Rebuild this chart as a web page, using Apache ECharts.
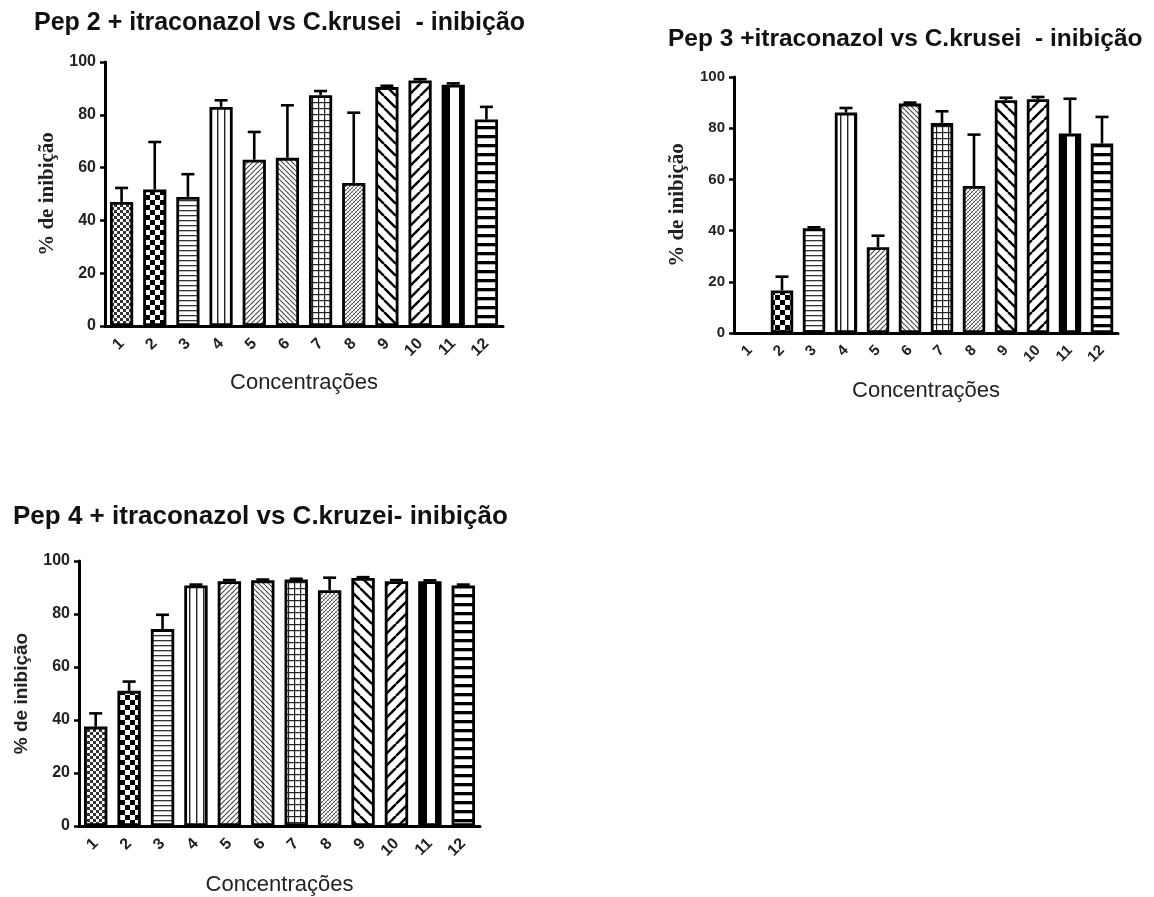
<!DOCTYPE html>
<html>
<head>
<meta charset="utf-8">
<script src="https://cdn.jsdelivr.net/npm/echarts@6.0.0/dist/echarts.min.js"></script>
<style>
  html, body { margin: 0; padding: 0; background: #fff; }
  #chart { width: 1154px; height: 897px; }
</style>
</head>
<body>
<div id="chart"></div>
<script>
// Concentration groups on the x axis
const categories = ['1', '2', '3', '4', '5', '6', '7', '8', '9', '10', '11', '12'];
const yTicks = [0, 20, 40, 60, 80, 100];

// Pep 2 + itraconazol vs C. krusei (% inhibition, mean and SD)
const pep2Mean = [47.0, 51.7, 48.9, 83.0, 63.0, 63.7, 87.4, 54.2, 90.5, 93.0, 91.4, 78.2];
const pep2Sd   = [5.3, 18.0, 8.6, 2.5, 10.5, 19.9, 1.6, 26.6, 0.5, 0.5, 0.5, 4.8];

// Pep 3 + itraconazol vs C. krusei
const pep3Mean = [0, 16.6, 40.9, 86.1, 33.5, 89.6, 82.0, 57.4, 90.9, 91.3, 77.9, 74.0];
const pep3Sd   = [0, 5.4, 0.4, 1.8, 4.5, 0.4, 4.6, 20.1, 1.0, 0.9, 13.6, 10.4];

// Pep 4 + itraconazol vs C. kruzei
const pep4Mean = [37.5, 51.0, 74.3, 90.8, 92.4, 92.7, 93.0, 89.0, 93.6, 92.4, 92.4, 90.8];
const pep4Sd   = [5.0, 3.5, 5.4, 0.3, 0.4, 0.3, 0.3, 4.7, 0.3, 0.4, 0.3, 0.3];

const SANS = '"Liberation Sans", Arial, sans-serif';
const SERIF = '"Liberation Serif", "Times New Roman", serif';

// ---- fill patterns, one per concentration group ----
function tile(w, h, draw) {
  const c = document.createElement('canvas');
  c.width = w; c.height = h;
  const g = c.getContext('2d');
  g.fillStyle = '#fff';
  g.fillRect(0, 0, w, h);
  draw(g, w, h);
  return { image: c, repeat: 'repeat' };
}
function diag(g, s, dir, width, color) {
  g.strokeStyle = color; g.lineWidth = width;
  g.beginPath();
  for (const k of [-s, 0, s]) {
    if (dir > 0) { g.moveTo(k, s); g.lineTo(k + s, 0); }
    else { g.moveTo(k, 0); g.lineTo(k + s, s); }
  }
  g.stroke();
}
const fills = [
  // 1: fine checker mesh
  tile(6, 6, (g) => { g.fillStyle = '#333'; g.fillRect(0, 0, 3, 3); g.fillRect(3, 3, 3, 3); }),
  // 2: coarse checkerboard
  tile(10, 10, (g) => { g.fillStyle = '#000'; g.fillRect(0, 0, 5, 5); g.fillRect(5, 5, 5, 5); }),
  // 3: thin horizontal lines
  tile(4, 5, (g) => { g.fillStyle = '#333'; g.fillRect(0, 0, 4, 1.3); }),
  // 4: sparse vertical lines
  tile(7, 4, (g) => { g.fillStyle = '#222'; g.fillRect(0, 0, 1.4, 4); }),
  // 5: fine forward hatch
  tile(5, 5, (g) => diag(g, 5, 1, 1.1, '#444')),
  // 6: fine back hatch
  tile(5, 5, (g) => diag(g, 5, -1, 1.1, '#444')),
  // 7: square grid
  tile(6, 6, (g) => { g.fillStyle = '#222'; g.fillRect(0, 0, 6, 1.2); g.fillRect(0, 0, 1.2, 6); }),
  // 8: dense crosshatch
  tile(4, 4, (g) => { diag(g, 4, 1, 1, '#555'); diag(g, 4, -1, 0.7, '#999'); }),
  // 9: bold back hatch
  tile(12, 12, (g) => diag(g, 12, -1, 2.4, '#000')),
  // 10: bold forward hatch
  tile(12, 12, (g) => diag(g, 12, 1, 2.4, '#000')),
  // 11: heavy black sides, white centre
  {
    type: 'linear', x: 0, y: 0, x2: 1, y2: 0,
    colorStops: [
      { offset: 0, color: '#000' }, { offset: 0.38, color: '#000' },
      { offset: 0.38, color: '#fff' }, { offset: 0.74, color: '#fff' },
      { offset: 0.74, color: '#000' }, { offset: 1, color: '#000' }
    ]
  },
  // 12: bold horizontal bands
  tile(4, 9, (g) => { g.fillStyle = '#000'; g.fillRect(0, 0, 4, 3.3); })
];

// ---- panel geometry ----
const panels = [
  {
    title: 'Pep 2 + itraconazol vs C.krusei  - inibição',
    titlePos: { left: 34, top: 11 }, titleSize: 25,
    grid: { left: 105, top: 62, width: 398, height: 264 },
    mean: pep2Mean, sd: pep2Sd, yNameFont: SERIF, tickSize: 16, yNameSize: 21, yNameGap: 47, xNameGap: 46
  },
  {
    title: 'Pep 3 +itraconazol vs C.krusei  - inibição',
    titlePos: { left: 668, top: 27 }, titleSize: 24.5,
    grid: { left: 734, top: 77, width: 384, height: 256 },
    mean: pep3Mean, sd: pep3Sd, yNameFont: SERIF, tickSize: 15, yNameSize: 21, yNameGap: 46, xNameGap: 47
  },
  {
    title: 'Pep 4 + itraconazol vs C.kruzei- inibição',
    titlePos: { left: 13, top: 504 }, titleSize: 26,
    grid: { left: 79, top: 561, width: 401, height: 266 },
    mean: pep4Mean, sd: pep4Sd, yNameFont: SANS, tickSize: 16, yNameSize: 19, yNameGap: 48, xNameGap: 48
  }
];

const option = {
  animation: false,
  backgroundColor: '#fff',
  title: [], grid: [], xAxis: [], yAxis: [], series: []
};

panels.forEach((p, i) => {
  option.title.push({
    text: p.title, left: p.titlePos.left, top: p.titlePos.top, padding: 0,
    textStyle: { fontFamily: SANS, fontWeight: 'bold', fontSize: p.titleSize, color: '#111' }
  });
  option.grid.push(Object.assign({ containLabel: false }, p.grid));
  option.xAxis.push({
    type: 'category', gridIndex: i, data: categories,
    name: 'Concentrações', nameLocation: 'middle', nameGap: p.xNameGap,
    nameTextStyle: { fontFamily: SANS, fontSize: 22, color: '#222' },
    axisLine: { lineStyle: { color: '#000', width: 3 } },
    axisTick: { alignWithLabel: true, length: 7, lineStyle: { color: '#000', width: 2.5 } },
    axisLabel: {
      rotate: 45, margin: 15, interval: 0,
      fontFamily: SANS, fontWeight: 'bold', fontSize: p.tickSize, color: '#222'
    },
    splitLine: { show: false }
  });
  option.yAxis.push({
    type: 'value', gridIndex: i, min: yTicks[0], max: yTicks[yTicks.length - 1], interval: 20,
    name: '% de inibição', nameLocation: 'middle', nameRotate: 90, nameGap: p.yNameGap,
    nameTextStyle: { fontFamily: p.yNameFont, fontWeight: 'bold', fontSize: p.yNameSize, color: '#222' },
    axisLine: { show: true, lineStyle: { color: '#000', width: 3 } },
    axisTick: { show: true, length: 5, lineStyle: { color: '#000', width: 2.5 } },
    axisLabel: { margin: 9, fontFamily: SANS, fontWeight: 'bold', fontSize: p.tickSize, color: '#222' },
    splitLine: { show: false }
  });
  option.series.push({
    type: 'bar', xAxisIndex: i, yAxisIndex: i, barWidth: '70%',
    data: p.mean.map((v, k) => ({
      value: v,
      // an empty (zero) bar gets no outline
      itemStyle: { color: fills[k], borderColor: '#000', borderWidth: v > 0 ? 2.8 : 0 }
    })),
    z: 3
  });
  // upper error bars (mean + SD) with a cap
  option.series.push({
    type: 'custom', xAxisIndex: i, yAxisIndex: i,
    data: p.mean.map((v, k) => [k, v, p.sd[k]]),
    encode: { x: 0, y: 1 },
    z: 2,
    renderItem: (params, api) => {
      const s = api.value(2);
      if (!(s > 0)) return null;
      const x = api.value(0), m = api.value(1);
      const p0 = api.coord([x, m]);
      const p1 = api.coord([x, m + s]);
      const half = 6.5;
      const st = { stroke: '#000', lineWidth: 2.6 };
      return {
        type: 'group',
        children: [
          { type: 'line', shape: { x1: p0[0], y1: p0[1], x2: p1[0], y2: p1[1] }, style: st },
          { type: 'line', shape: { x1: p1[0] - half, y1: p1[1], x2: p1[0] + half, y2: p1[1] }, style: st }
        ]
      };
    }
  });
});

const chart = echarts.init(document.getElementById('chart'), null, { renderer: 'canvas' });
chart.setOption(option);
</script>
</body>
</html>
